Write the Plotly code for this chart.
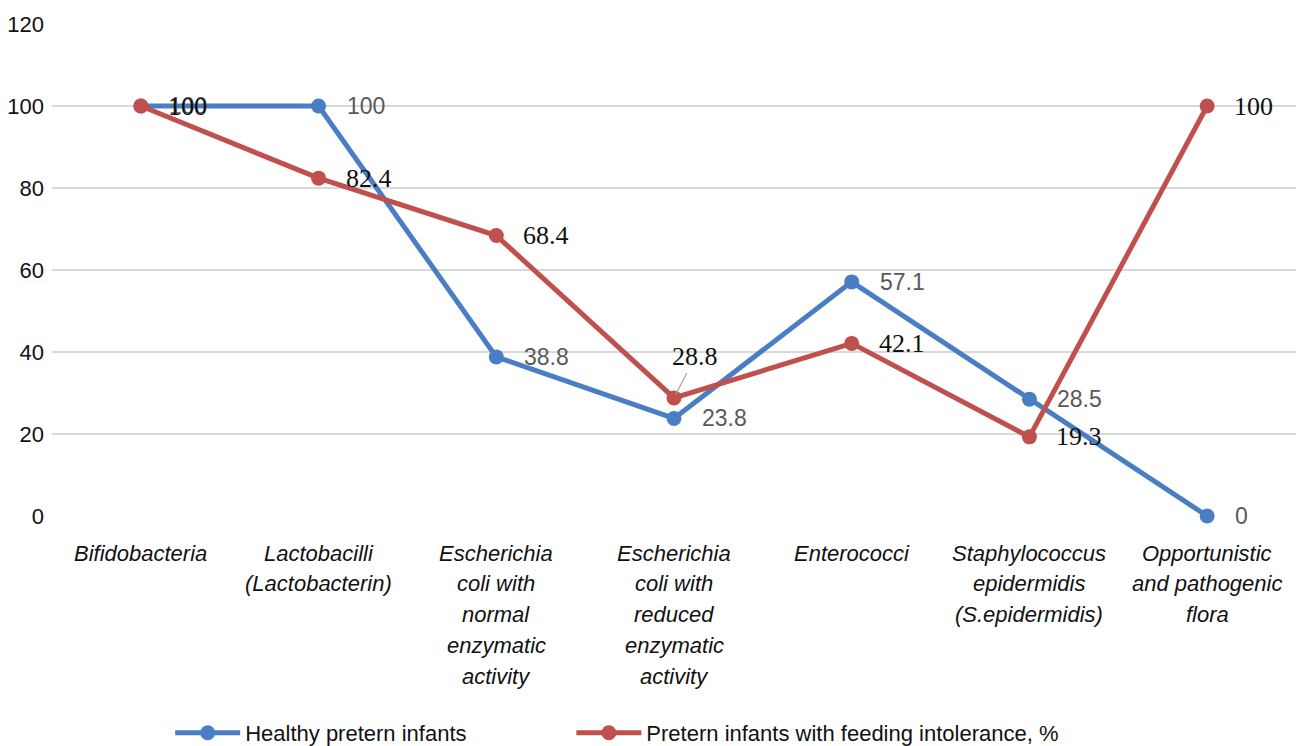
import plotly.graph_objects as go

# Categories (each sublist is one multi-line axis label)
categories = [
    "Bifidobacteria",
    "Lactobacilli (Lactobacterin)",
    "Escherichia coli with normal enzymatic activity",
    "Escherichia coli with reduced enzymatic activity",
    "Enterococci",
    "Staphylococcus epidermidis (S.epidermidis)",
    "Opportunistic and pathogenic flora",
]
category_lines = [
    ["Bifidobacteria"],
    ["Lactobacilli", "(Lactobacterin)"],
    ["Escherichia", "coli with", "normal", "enzymatic", "activity"],
    ["Escherichia", "coli with", "reduced", "enzymatic", "activity"],
    ["Enterococci"],
    ["Staphylococcus", "epidermidis", "(S.epidermidis)"],
    ["Opportunistic", "and pathogenic", "flora"],
]

healthy = [100, 100, 38.8, 23.8, 57.1, 28.5, 0]
intolerance = [100, 82.4, 68.4, 28.8, 42.1, 19.3, 100]

series_names = ["Healthy pretern infants", "Pretern infants with feeding intolerance, %"]
y_ticks = [0, 20, 40, 60, 80, 100, 120]

BLUE = "#4A7EC4"
RED = "#C0504D"
SANS = "Liberation Sans, Arial, sans-serif"
SERIF = "Liberation Serif, Times New Roman, serif"

fig = go.Figure()
fig.add_trace(go.Scatter(
    x=categories, y=healthy, name=series_names[0], mode="lines+markers",
    line=dict(color=BLUE, width=5), marker=dict(size=15, color=BLUE),
    legend="legend", cliponaxis=False,
))
fig.add_trace(go.Scatter(
    x=categories, y=intolerance, name=series_names[1], mode="lines+markers",
    line=dict(color=RED, width=5), marker=dict(size=15, color=RED),
    legend="legend2", cliponaxis=False,
))

annotations = []

# Value labels: healthy series in grey sans, intolerance series in black serif
for cat, v in zip(categories, healthy):
    annotations.append(dict(
        x=cat, y=v, xref="x", yref="y", text=f"{v:g}", showarrow=False,
        xanchor="left", yanchor="middle", xshift=26,
        font=dict(family=SANS, size=23, color="#595959"),
    ))
for i, (cat, v) in enumerate(zip(categories, intolerance)):
    if i == 3:
        # This label sits above its point with a leader line
        annotations.append(dict(
            x=cat, y=v, xref="x", yref="y", text=f"{v:g}", showarrow=True,
            arrowhead=0, arrowwidth=1.2, arrowcolor="#A6A6A6", standoff=4,
            ax=21, ay=-41,
            font=dict(family=SERIF, size=26, color="#111111"),
        ))
    else:
        annotations.append(dict(
            x=cat, y=v, xref="x", yref="y", text=f"{v:g}", showarrow=False,
            xanchor="left", yanchor="middle", xshift=25,
            font=dict(family=SERIF, size=26, color="#111111"),
        ))

# Category labels, one line at a time for wider line spacing
for cat, lines in zip(categories, category_lines):
    for j, line in enumerate(lines):
        annotations.append(dict(
            x=cat, y=0, xref="x", yref="y", text=f"<i>{line}</i>", showarrow=False,
            xanchor="center", yanchor="middle", yshift=-37 - 30.8 * j,
            font=dict(family=SANS, size=22, color="#111111"),
        ))

legend_style = dict(
    orientation="h", xanchor="left", y=-0.441, yanchor="middle",
    itemwidth=65,
    font=dict(family=SANS, size=22, color="#111111"),
    bgcolor="rgba(0,0,0,0)",
)

fig.update_layout(
    width=1297, height=746,
    margin=dict(l=52, r=1, t=24, b=230, autoexpand=False),
    paper_bgcolor="white", plot_bgcolor="white",
    showlegend=True,
    legend=dict(x=0.095, **legend_style),
    legend2=dict(x=0.4175, **legend_style),
    annotations=annotations,
)
fig.update_xaxes(
    type="category", range=[-0.5, 6.5], showticklabels=False,
    showgrid=False, zeroline=False, showline=False, ticks="",
)
fig.update_yaxes(
    range=[0, 120], tickvals=y_ticks, showgrid=True, gridcolor="#D9D9D9", gridwidth=2,
    zeroline=False, showline=False, ticks="", ticklabelstandoff=7,
    tickfont=dict(family=SANS, size=22, color="#111111"),
)

fig.write_html("out.html")
